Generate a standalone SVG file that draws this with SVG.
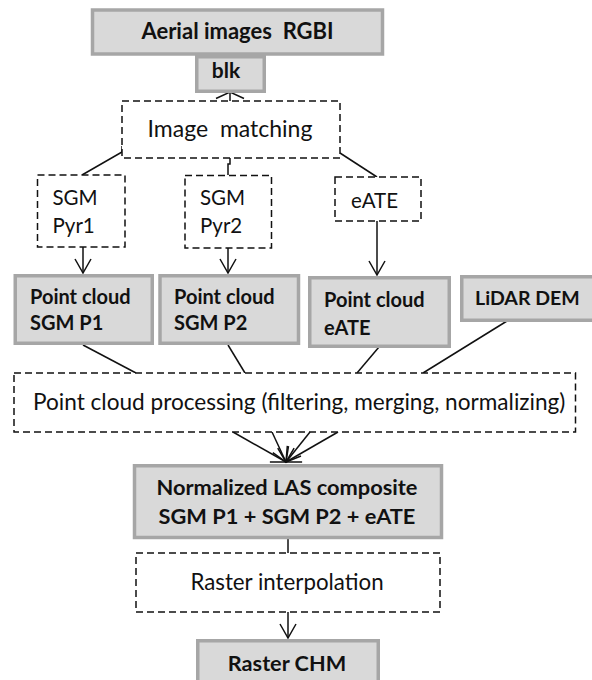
<svg xmlns="http://www.w3.org/2000/svg" width="592" height="680" viewBox="0 0 592 680">
<style>
.box{fill:#d9d9d9;stroke:#a6a6a6;stroke-width:3.5}
.dash{fill:#fff;stroke:#111;stroke-width:1.5;stroke-dasharray:7 4}
.ln{fill:none;stroke:#111;stroke-width:1.5}
.b{font-family:Lato,"Liberation Sans",sans-serif;font-weight:bold;font-size:20px;fill:#111}
.r{font-family:Lato,"Liberation Sans",sans-serif;font-size:20.5px;fill:#111}
.c{text-anchor:middle}
</style>
<defs>
<marker id="ah" markerUnits="userSpaceOnUse" viewBox="-16 -12 32 24" markerWidth="32" markerHeight="24" refX="0" refY="0" orient="auto" overflow="visible">
<path d="M-14,-8 L0,0 L-14,8" fill="none" stroke="#111" stroke-width="1.5"/>
</marker>
</defs>
<rect width="592" height="680" fill="#fff"/>
<g id="connectors">
<path class="ln" d="M230,101 V92"/>
<polyline class="ln" points="216,98.5 230,92 244,98.5"/>
<polyline class="ln" points="122,146 122,152 82,175"/>
<path class="ln" d="M230,158 V164 H228 V175"/>
<polyline class="ln" points="340,153 377,177"/>
<path class="ln" d="M83,247 V273" marker-end="url(#ah)"/>
<path class="ln" d="M228,248 V273" marker-end="url(#ah)"/>
<path class="ln" d="M377,221 V275" marker-end="url(#ah)"/>
<path class="ln" d="M83,345 L136,373"/>
<path class="ln" d="M228,345 L245,373"/>
<path class="ln" d="M379,347 L357,373"/>
<path class="ln" d="M507,321 L423,373"/>
<path class="ln" d="M233,432 L286,462" marker-end="url(#ah)"/>
<path class="ln" d="M272,432 L286,462" marker-end="url(#ah)"/>
<path class="ln" d="M310,432 L286,462" marker-end="url(#ah)"/>
<path class="ln" d="M338,432 L286,462" marker-end="url(#ah)"/>
<path class="ln" d="M288,539 V553"/>
<path class="ln" d="M288,612 V638" marker-end="url(#ah)"/>
</g>
<g id="aerial">
<rect class="box" x="92.5" y="10" width="290" height="44"/>
<text class="b c" x="237.5" y="39" style="font-size:22px" xml:space="preserve">Aerial images  RGBI</text>
</g>
<g id="blk">
<rect class="box" x="196.75" y="56.75" width="67.5" height="34.5"/>
<text class="b c" x="226" y="78" style="font-size:21px">blk</text>
</g>
<g id="image-matching">
<rect class="dash" x="122" y="101" width="218" height="57"/>
<text class="r c" x="230" y="137" style="font-size:23px" xml:space="preserve">Image  matching</text>
</g>
<g id="sgm-pyr1">
<rect class="dash" x="37.5" y="175" width="87.5" height="72"/>
<text class="r" x="52.5" y="204.5">SGM</text>
<text class="r" x="52.5" y="233">Pyr1</text>
</g>
<g id="sgm-pyr2">
<rect class="dash" x="185" y="175.5" width="86.5" height="72.5"/>
<text class="r" x="200" y="204.5">SGM</text>
<text class="r" x="200" y="233">Pyr2</text>
</g>
<g id="eate">
<rect class="dash" x="335" y="177" width="86" height="44"/>
<text class="r" x="351" y="208">eATE</text>
</g>
<g id="pc-p1">
<rect class="box" x="15.25" y="275.75" width="137" height="67.5"/>
<text class="b" x="30" y="303.5">Point cloud</text>
<text class="b" x="30" y="330">SGM P1</text>
</g>
<g id="pc-p2">
<rect class="box" x="160" y="275.75" width="138.5" height="67.5"/>
<text class="b" x="174" y="303.5">Point cloud</text>
<text class="b" x="174" y="330">SGM P2</text>
</g>
<g id="pc-eate">
<rect class="box" x="309.75" y="277.75" width="139.5" height="68.5"/>
<text class="b" x="324" y="307">Point cloud</text>
<text class="b" x="324" y="335">eATE</text>
</g>
<g id="lidar">
<rect class="box" x="461.75" y="276.75" width="140" height="43.5"/>
<text class="b" x="475" y="305" style="font-size:19.5px">LiDAR DEM</text>
</g>
<g id="processing">
<rect class="dash" x="14" y="373" width="561.5" height="59"/>
<text class="r" x="33" y="410" style="font-size:22.6px">Point cloud processing (filtering, merging, normalizing)</text>
</g>
<g id="las">
<rect class="box" x="134.5" y="465.75" width="307" height="71.75"/>
<text class="b c" x="287" y="495" style="font-size:21.8px">Normalized LAS composite</text>
<text class="b c" x="287" y="523.5" style="font-size:21.8px">SGM P1 + SGM P2 + eATE</text>
</g>
<g id="raster-interp">
<rect class="dash" x="136" y="553" width="304" height="59"/>
<text class="r c" x="287" y="590" style="font-size:22.3px">Raster interpolation</text>
</g>
<g id="chm">
<rect class="box" x="197.75" y="640.75" width="180.5" height="60"/>
<text class="b c" x="287" y="671" style="font-size:21.7px">Raster CHM</text>
</g>
</svg>
